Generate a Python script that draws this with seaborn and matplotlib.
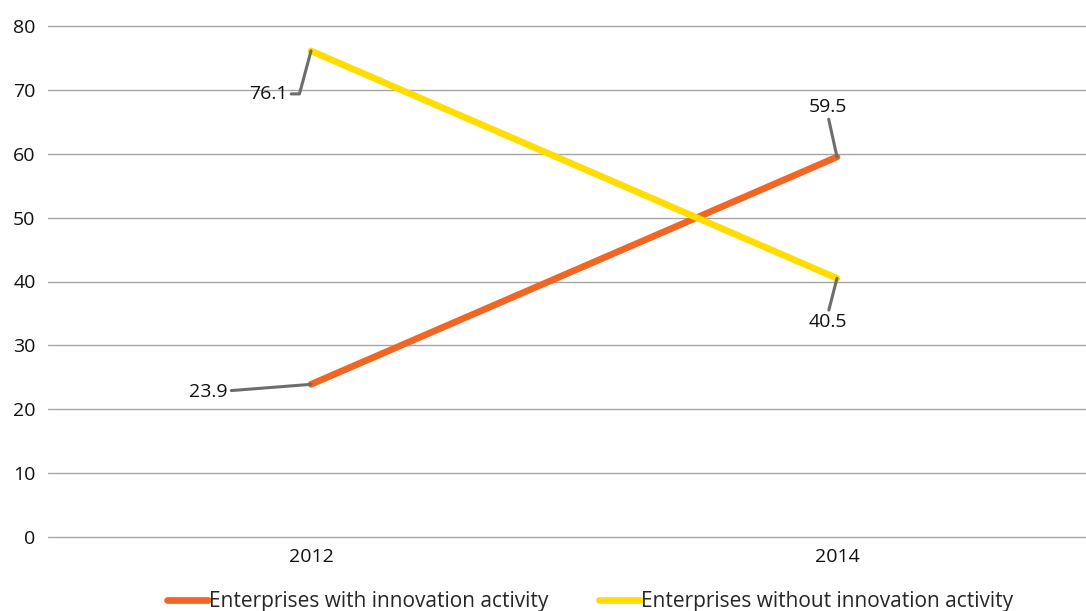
import matplotlib
matplotlib.use("Agg")
import matplotlib.pyplot as plt
import seaborn as sns
import pandas as pd

years = ["2012", "2014"]
with_innovation = [23.9, 59.5]
without_innovation = [76.1, 40.5]
series_names = ["Enterprises with innovation activity",
                "Enterprises without innovation activity"]
y_ticks = [0, 10, 20, 30, 40, 50, 60, 70, 80]

df = pd.DataFrame({
    "year": years * 2,
    "share": with_innovation + without_innovation,
    "series": [series_names[0]] * 2 + [series_names[1]] * 2,
})

sns.set_style("white")
plt.rcParams["font.family"] = ["Open Sans", "DejaVu Sans"]

W, H = 1086, 611
fig = plt.figure(figsize=(W / 100, H / 100), dpi=100)
ax = fig.add_axes([48 / W, 1 - 537 / H, (1100 - 48) / W, (537 - 26) / H])

palette = {series_names[0]: "#F26522", series_names[1]: "#FFDD00"}
sns.lineplot(data=df, x="year", y="share", hue="series", palette=palette,
             linewidth=4.8, ax=ax, legend=False, sort=False,
             solid_capstyle="round")

ax.set_xlim(-0.5, 1.5)
ax.set_ylim(0, 80)
ax.set_yticks(y_ticks)
ax.grid(axis="y", color="#a6a6a6", linewidth=1.0)
ax.grid(axis="x", visible=False)
for gl in ax.get_ygridlines():
    gl.set_clip_on(False)
ax.set_axisbelow(True)
for s in ax.spines.values():
    s.set_visible(False)
ax.tick_params(axis="both", length=0, labelsize=14, colors="#111111")
ax.tick_params(axis="y", pad=9)
ax.tick_params(axis="x", pad=8)
ax.set_xlabel("")
ax.set_ylabel("")

# data labels with leader lines
leader = dict(arrowstyle="-", color="#6d6d6d", lw=2.2, shrinkA=0, shrinkB=0)
lab_kw = dict(fontsize=14, color="#111111", textcoords="offset pixels")

# 2012 values
ax.annotate(f"{without_innovation[0]}", xy=(0, without_innovation[0]),
            xytext=(-23, -43), ha="right", va="center", **lab_kw,
            arrowprops=dict(leader, connectionstyle="angle,angleA=0,angleB=75,rad=0"))
ax.annotate(f"{with_innovation[0]}", xy=(0, with_innovation[0]),
            xytext=(-83, -8), ha="right", va="center", **lab_kw,
            arrowprops=leader)
# 2014 values
ax.annotate(f"{with_innovation[1]}", xy=(1, with_innovation[1]),
            xytext=(-9, 50), ha="center", va="center", **lab_kw,
            arrowprops=dict(leader, relpos=(0.5, 0.0)))
ax.annotate(f"{without_innovation[1]}", xy=(1, without_innovation[1]),
            xytext=(-9, -44), ha="center", va="center", **lab_kw,
            arrowprops=dict(leader, relpos=(0.5, 1.0)))

handles = [plt.Line2D([], [], color=palette[n], lw=4.8, solid_capstyle="round")
           for n in series_names]
fig.legend(handles, series_names, loc="center", bbox_to_anchor=(590 / W, 1 - 602 / H),
           ncol=2, frameon=False, handlelength=2.0, handletextpad=0.05,
           columnspacing=2.4, prop={"size": 15},
           borderaxespad=0)

fig.savefig("out.png", dpi=100)
